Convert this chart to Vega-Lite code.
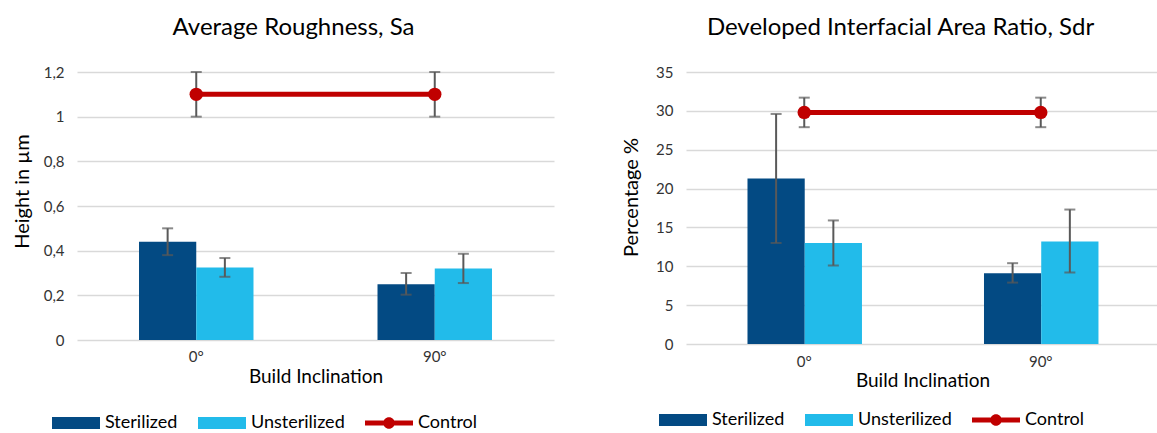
{
  "$schema": "https://vega.github.io/schema/vega-lite/v6.json",
  "background": "white",
  "padding": {"left": 12, "top": 16, "right": 0, "bottom": 0},
  "spacing": 67,
  "config": {
    "font": "Lato",
    "view": {"stroke": null},
    "axis": {"labelFont": "Lato", "titleFont": "Lato", "labelColor": "#333333", "titleColor": "#000000", "titleFontWeight": "normal", "labelFontSize": 15, "titleFontSize": 19, "ticks": false, "tickSize": 0, "domain": false, "gridColor": "#D9D9D9", "gridWidth": 1.5, "labelOverlap": false},
    "title": {"font": "Lato", "fontSize": 24, "fontWeight": "normal", "color": "#000000", "offset": 25, "dx": -22},
    "legend": {"labelFont": "Lato", "labelFontSize": 18, "labelColor": "#000000", "symbolStrokeWidth": 0, "symbolSize": 576, "labelOffset": 29, "columnPadding": 20}
  },
  "resolve": {"legend": {"color": "independent"}, "scale": {"color": "independent", "y": "independent"}, "axis": {"y": "independent"}},
  "data": {"values": [
    {"chart": "Sa", "inclination": "0°", "series": "Sterilized", "value": 0.44, "lo": 0.38, "hi": 0.50},
    {"chart": "Sa", "inclination": "0°", "series": "Unsterilized", "value": 0.325, "lo": 0.283, "hi": 0.367},
    {"chart": "Sa", "inclination": "90°", "series": "Sterilized", "value": 0.25, "lo": 0.203, "hi": 0.30},
    {"chart": "Sa", "inclination": "90°", "series": "Unsterilized", "value": 0.32, "lo": 0.255, "hi": 0.386},
    {"chart": "Sa", "inclination": "0°", "series": "Control", "value": 1.1, "lo": 1.0, "hi": 1.2},
    {"chart": "Sa", "inclination": "90°", "series": "Control", "value": 1.1, "lo": 1.0, "hi": 1.2},
    {"chart": "Sdr", "inclination": "0°", "series": "Sterilized", "value": 21.3, "lo": 13.0, "hi": 29.6},
    {"chart": "Sdr", "inclination": "0°", "series": "Unsterilized", "value": 13.0, "lo": 10.1, "hi": 15.9},
    {"chart": "Sdr", "inclination": "90°", "series": "Sterilized", "value": 9.1, "lo": 7.9, "hi": 10.4},
    {"chart": "Sdr", "inclination": "90°", "series": "Unsterilized", "value": 13.2, "lo": 9.2, "hi": 17.3},
    {"chart": "Sdr", "inclination": "0°", "series": "Control", "value": 29.8, "lo": 27.9, "hi": 31.7},
    {"chart": "Sdr", "inclination": "90°", "series": "Control", "value": 29.8, "lo": 27.9, "hi": 31.7}
  ]},
  "hconcat": [
    {
      "width": 477,
      "height": 268,
      "title": "Average Roughness, Sa",
      "transform": [{"filter": "datum.chart === 'Sa'"}],
      "encoding": {
        "x": {"field": "inclination", "type": "nominal", "sort": ["0°", "90°"], "scale": {"paddingInner": 0.52, "paddingOuter": 0.26}, "axis": {"title": "Build Inclination", "labelAngle": 0, "labelPadding": 9.5, "titlePadding": 3, "grid": false}}
      },
      "layer": [
        {
          "transform": [{"filter": "datum.series !== 'Control'"}],
          "mark": {"type": "bar"},
          "encoding": {
            "xOffset": {"field": "series", "type": "nominal", "sort": ["Sterilized", "Unsterilized"], "scale": {"paddingInner": 0, "paddingOuter": 0}},
            "y": {"field": "value", "type": "quantitative", "title": "Height in µm", "scale": {"domain": [0, 1.2], "nice": false}, "axis": {"values": [0, 0.2, 0.4, 0.6, 0.8, 1, 1.2], "labelExpr": "replace(toString(datum.value), '.', ',')", "labelPadding": 13, "minExtent": 32, "maxExtent": 32, "titlePadding": 13, "titleY": 119, "titleFontSize": 20}},
            "color": {"field": "series", "type": "nominal", "scale": {"domain": ["Sterilized", "Unsterilized", "Control"], "range": ["#034A83", "#22BBEA", "#C00000"]}, "legend": {"orient": "none", "direction": "horizontal", "title": null, "legendX": -25, "legendY": 339, "symbolType": {"expr": "datum.value === 'Control' ? 'M-1,-0.2H3V0.2H-1Z M1.48,0A0.48,0.48 0 1,1 0.52,0A0.48,0.48 0 1,1 1.48,0Z' : 'M-1,-0.5H3V0.5H-1Z'"}}}
          }
        },
        {
          "transform": [{"filter": "datum.series !== 'Control'"}],
          "mark": {"type": "rule", "color": "#595959", "strokeWidth": 2},
          "encoding": {
            "xOffset": {"field": "series", "type": "nominal", "sort": ["Sterilized", "Unsterilized"]},
            "y": {"field": "lo", "type": "quantitative", "title": "Height in µm"},
            "y2": {"field": "hi"}
          }
        },
        {
          "transform": [{"filter": "datum.series !== 'Control'"}],
          "mark": {"type": "tick", "orient": "horizontal", "color": "#595959", "size": 11, "thickness": 2},
          "encoding": {
            "xOffset": {"field": "series", "type": "nominal", "sort": ["Sterilized", "Unsterilized"]},
            "y": {"field": "lo", "type": "quantitative", "title": "Height in µm"}
          }
        },
        {
          "transform": [{"filter": "datum.series !== 'Control'"}],
          "mark": {"type": "tick", "orient": "horizontal", "color": "#595959", "size": 11, "thickness": 2},
          "encoding": {
            "xOffset": {"field": "series", "type": "nominal", "sort": ["Sterilized", "Unsterilized"]},
            "y": {"field": "hi", "type": "quantitative", "title": "Height in µm"}
          }
        },
        {
          "transform": [{"filter": "datum.series === 'Control'"}],
          "mark": {"type": "line", "color": "#C00000", "strokeWidth": 5},
          "encoding": {
            "y": {"field": "value", "type": "quantitative", "title": "Height in µm"}
          }
        },
        {
          "transform": [{"filter": "datum.series === 'Control'"}],
          "mark": {"type": "rule", "color": "#595959", "strokeWidth": 2},
          "encoding": {
            "y": {"field": "lo", "type": "quantitative", "title": "Height in µm"},
            "y2": {"field": "hi"}
          }
        },
        {
          "transform": [{"filter": "datum.series === 'Control'"}],
          "mark": {"type": "tick", "orient": "horizontal", "color": "#595959", "size": 11, "thickness": 2},
          "encoding": {
            "y": {"field": "lo", "type": "quantitative", "title": "Height in µm"}
          }
        },
        {
          "transform": [{"filter": "datum.series === 'Control'"}],
          "mark": {"type": "tick", "orient": "horizontal", "color": "#595959", "size": 11, "thickness": 2},
          "encoding": {
            "y": {"field": "hi", "type": "quantitative", "title": "Height in µm"}
          }
        },
        {
          "transform": [{"filter": "datum.series === 'Control'"}],
          "mark": {"type": "point", "filled": true, "color": "#C00000", "opacity": 1, "size": 180},
          "encoding": {
            "y": {"field": "value", "type": "quantitative", "title": "Height in µm"}
          }
        }
      ]
    },
    {
      "width": 473,
      "height": 272,
      "title": "Developed Interfacial Area Ratio, Sdr",
      "transform": [{"filter": "datum.chart === 'Sdr'"}],
      "encoding": {
        "x": {"field": "inclination", "type": "nominal", "sort": ["0°", "90°"], "scale": {"paddingInner": 0.52, "paddingOuter": 0.26}, "axis": {"title": "Build Inclination", "labelAngle": 0, "labelPadding": 10.5, "titlePadding": 2, "grid": false}}
      },
      "layer": [
        {
          "transform": [{"filter": "datum.series !== 'Control'"}],
          "mark": {"type": "bar"},
          "encoding": {
            "xOffset": {"field": "series", "type": "nominal", "sort": ["Sterilized", "Unsterilized"], "scale": {"paddingInner": 0, "paddingOuter": 0}},
            "y": {"field": "value", "type": "quantitative", "title": "Percentage %", "scale": {"domain": [0, 35], "nice": false}, "axis": {"tickCount": 7, "labelPadding": 13, "minExtent": 32, "maxExtent": 32, "titlePadding": 13, "titleY": 125, "titleFontSize": 20}},
            "color": {"field": "series", "type": "nominal", "scale": {"domain": ["Sterilized", "Unsterilized", "Control"], "range": ["#034A83", "#22BBEA", "#C00000"]}, "legend": {"orient": "none", "direction": "horizontal", "title": null, "legendX": -27, "legendY": 336, "symbolType": {"expr": "datum.value === 'Control' ? 'M-1,-0.2H3V0.2H-1Z M1.48,0A0.48,0.48 0 1,1 0.52,0A0.48,0.48 0 1,1 1.48,0Z' : 'M-1,-0.5H3V0.5H-1Z'"}}}
          }
        },
        {
          "transform": [{"filter": "datum.series !== 'Control'"}],
          "mark": {"type": "rule", "color": "#595959", "strokeWidth": 2},
          "encoding": {
            "xOffset": {"field": "series", "type": "nominal", "sort": ["Sterilized", "Unsterilized"]},
            "y": {"field": "lo", "type": "quantitative", "title": "Percentage %"},
            "y2": {"field": "hi"}
          }
        },
        {
          "transform": [{"filter": "datum.series !== 'Control'"}],
          "mark": {"type": "tick", "orient": "horizontal", "color": "#595959", "size": 11, "thickness": 2},
          "encoding": {
            "xOffset": {"field": "series", "type": "nominal", "sort": ["Sterilized", "Unsterilized"]},
            "y": {"field": "lo", "type": "quantitative", "title": "Percentage %"}
          }
        },
        {
          "transform": [{"filter": "datum.series !== 'Control'"}],
          "mark": {"type": "tick", "orient": "horizontal", "color": "#595959", "size": 11, "thickness": 2},
          "encoding": {
            "xOffset": {"field": "series", "type": "nominal", "sort": ["Sterilized", "Unsterilized"]},
            "y": {"field": "hi", "type": "quantitative", "title": "Percentage %"}
          }
        },
        {
          "transform": [{"filter": "datum.series === 'Control'"}],
          "mark": {"type": "line", "color": "#C00000", "strokeWidth": 5},
          "encoding": {
            "y": {"field": "value", "type": "quantitative", "title": "Percentage %"}
          }
        },
        {
          "transform": [{"filter": "datum.series === 'Control'"}],
          "mark": {"type": "rule", "color": "#595959", "strokeWidth": 2},
          "encoding": {
            "y": {"field": "lo", "type": "quantitative", "title": "Percentage %"},
            "y2": {"field": "hi"}
          }
        },
        {
          "transform": [{"filter": "datum.series === 'Control'"}],
          "mark": {"type": "tick", "orient": "horizontal", "color": "#595959", "size": 11, "thickness": 2},
          "encoding": {
            "y": {"field": "lo", "type": "quantitative", "title": "Percentage %"}
          }
        },
        {
          "transform": [{"filter": "datum.series === 'Control'"}],
          "mark": {"type": "tick", "orient": "horizontal", "color": "#595959", "size": 11, "thickness": 2},
          "encoding": {
            "y": {"field": "hi", "type": "quantitative", "title": "Percentage %"}
          }
        },
        {
          "transform": [{"filter": "datum.series === 'Control'"}],
          "mark": {"type": "point", "filled": true, "color": "#C00000", "opacity": 1, "size": 180},
          "encoding": {
            "y": {"field": "value", "type": "quantitative", "title": "Percentage %"}
          }
        }
      ]
    }
  ]
}
